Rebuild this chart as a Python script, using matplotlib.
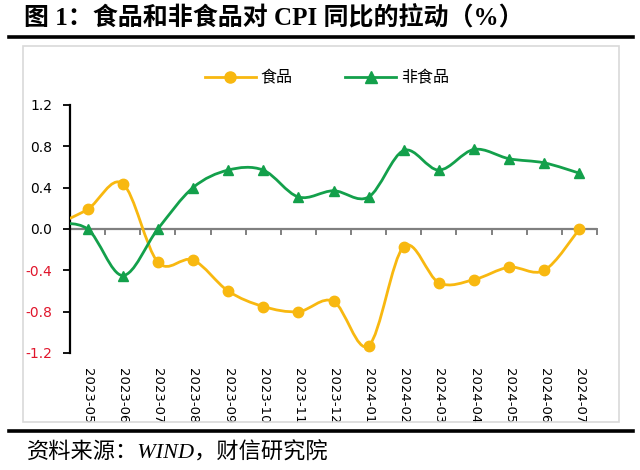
import matplotlib
matplotlib.use("Agg")
import matplotlib.pyplot as plt
import numpy as np
from matplotlib.path import Path
from matplotlib.patches import PathPatch, Rectangle
from matplotlib.lines import Line2D

plt.rcParams['font.family'] = ['DejaVu Sans', 'Noto Sans CJK SC']

# ---- data ----
categories = ["2023-05", "2023-06", "2023-07", "2023-08", "2023-09", "2023-10",
              "2023-11", "2023-12", "2024-01", "2024-02", "2024-03", "2024-04",
              "2024-05", "2024-06", "2024-07"]
food = [0.19, 0.44, -0.32, -0.30, -0.60, -0.75, -0.80, -0.70, -1.13, -0.17,
        -0.52, -0.49, -0.37, -0.40, 0.00]
nonfood = [0.00, -0.45, 0.00, 0.40, 0.57, 0.57, 0.31, 0.37, 0.31, 0.76,
           0.57, 0.77, 0.68, 0.64, 0.54]
# value of the month before the first category (curve enters from the left edge)
food_prev = 0.03
nonfood_prev = 0.05
yticks = [-1.2, -0.8, -0.4, 0.0, 0.4, 0.8, 1.2]
series_names = ["食品", "非食品"]

food_color = '#F8B810'
green_color = '#13A04B'
red_color = '#E0152B'

fig = plt.figure(figsize=(6.4, 4.7), dpi=100)
W, H = 640, 470

def fx(px):
    return px / W

def fy(py):
    return 1 - py / H

# outer frame of chart
fig.patches.append(Rectangle((fx(23), fy(422)), fx(619) - fx(23), fy(46) - fy(422),
                             transform=fig.transFigure, fill=False,
                             edgecolor='#D9D9D9', linewidth=1.2))
# top and bottom heavy rules
fig.add_artist(Line2D([fx(9), fx(633)], [fy(37), fy(37)], transform=fig.transFigure,
                      color='black', linewidth=2.6))
fig.add_artist(Line2D([fx(9), fx(633)], [fy(431), fy(431)], transform=fig.transFigure,
                      color='black', linewidth=2.6))

fig.text(fx(24), fy(18), "图 1：食品和非食品对 CPI 同比的拉动（%）",
         family=['Liberation Serif', 'Noto Sans CJK SC'], fontweight='bold',
         fontsize=18, va='center', ha='left')
fig.text(fx(27), fy(453), "资料来源：WIND，财信研究院",
         family=['Liberation Serif', 'Noto Sans CJK SC'], style='italic',
         fontsize=16, va='center', ha='left')

ax = fig.add_axes([fx(70), fy(353), fx(597) - fx(70), fy(105) - fy(353)])

def smooth_path(xs, ys):
    pts = np.column_stack([xs, ys]).astype(float)
    n = len(pts)
    verts = [pts[0]]
    codes = [Path.MOVETO]
    for i in range(n - 1):
        p0 = pts[i - 1] if i > 0 else pts[i]
        p1 = pts[i]
        p2 = pts[i + 1]
        p3 = pts[i + 2] if i + 2 < n else pts[i + 1]
        c1 = p1 + (p2 - p0) / 6.0
        c2 = p2 - (p3 - p1) / 6.0
        verts += [c1, c2, p2]
        codes += [Path.CURVE4] * 3
    return Path(verts, codes)

x = np.arange(len(categories))
xs_full = np.concatenate([[-1], x])
for vals, prev, col, mk, ms in [(food, food_prev, food_color, 'o', 7.5),
                                (nonfood, nonfood_prev, green_color, '^', 7.5)]:
    ys_full = np.concatenate([[prev], vals])
    patch = PathPatch(smooth_path(xs_full, ys_full), facecolor='none',
                      edgecolor=col, linewidth=2.0, zorder=3)
    ax.add_patch(patch)
    ax.plot(x, vals, linestyle='none', marker=mk, markersize=ms, color=col, zorder=4)

ax.set_xlim(-0.5, len(categories) - 0.5)
ax.set_ylim(-1.2, 1.2)

for s in ['top', 'right', 'bottom']:
    ax.spines[s].set_visible(False)
ax.spines['left'].set_linewidth(1.6)
ax.spines['left'].set_color('black')

ax.set_yticks(yticks)
ax.set_yticklabels([f"{v:.1f}" for v in yticks], fontsize=10)
for lbl, v in zip(ax.get_yticklabels(), yticks):
    if v < 0:
        lbl.set_color(red_color)
ax.tick_params(axis='y', direction='out', length=5, width=1.3, pad=8)

ax.set_xticks(x)
ax.set_xticklabels(categories, rotation=-90, fontsize=9.5, va='top', ha='center')
ax.tick_params(axis='x', length=0, pad=11)

# zero axis line with boundary ticks
ax.axhline(0, color='#808080', linewidth=1.6, zorder=2)
tick_len = 0.045
for b in np.arange(-0.5, len(categories), 1.0):
    ax.plot([b, b], [0, -tick_len], color='#808080', linewidth=1.4, zorder=2,
            clip_on=False)

# legend
handles = [Line2D([], [], color=food_color, marker='o', markersize=8, linewidth=2.0),
           Line2D([], [], color=green_color, marker='^', markersize=8, linewidth=2.0)]
fig.legend(handles, series_names, loc='center', bbox_to_anchor=(fx(327), fy(78)),
           ncol=2, frameon=False, handlelength=3.2,
           columnspacing=3.3, handletextpad=0.3,
           prop={'family': ['Noto Sans CJK SC'], 'size': 11.5})

fig.savefig("out.png", dpi=100)
